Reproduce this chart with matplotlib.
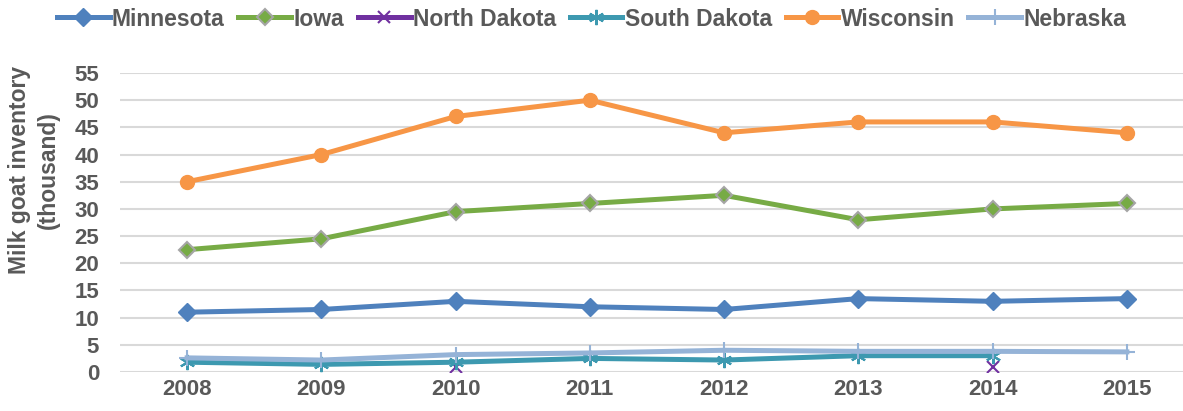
import matplotlib.pyplot as plt
import numpy as np

plt.rcParams['font.family'] = ['Liberation Sans', 'DejaVu Sans']

# Данные
years = [2008, 2009, 2010, 2011, 2012, 2013, 2014, 2015]
minnesota = [11, 11.5, 13, 12, 11.5, 13.5, 13, 13.5]
iowa = [22.5, 24.5, 29.5, 31, 32.5, 28, 30, 31]
north_dakota = [np.nan, np.nan, 1, np.nan, np.nan, np.nan, 1, np.nan]
south_dakota = [1.8, 1.4, 1.8, 2.5, 2.2, 3, 3, np.nan]
wisconsin = [35, 40, 47, 50, 44, 46, 46, 44]
nebraska = [2.6, 2.2, 3.2, 3.5, 4, 3.8, 3.8, 3.7]

grey = '#595959'

fig = plt.figure(figsize=(11.83, 4.11), dpi=100)
ax = fig.add_axes([120 / 1183, 1 - 372 / 411, 1074 / 1183, 299 / 411])

lw = 3.6
ax.plot(years, minnesota, color='#4F81BD', lw=lw, marker='D', ms=9,
        label='Minnesota')
ax.plot(years, iowa, color='#77AB45', lw=lw, marker='D', ms=8.5,
        mfc='#77AB45', mec='#A5A5A5', mew=1.5, label='Iowa')
ax.plot(years, north_dakota, color='#7030A0', lw=lw, marker='x', ms=9,
        mew=1.5, label='North Dakota')
ax.plot(years, south_dakota, color='#3D99B0', lw=lw, marker=(6, 2, 0),
        ms=11, mew=1.5, label='South Dakota')
ax.plot(years, wisconsin, color='#F79646', lw=lw, marker='o', ms=10,
        label='Wisconsin')
ax.plot(years, nebraska, color='#95B3D7', lw=lw, marker='+', ms=11,
        mew=1.5, label='Nebraska')

ax.set_xlim(2007.5, 2015.5)
ax.set_ylim(0, 55)
ax.set_xticks(years)
ax.set_yticks(range(0, 56, 5))
ax.grid(axis='y', color='#D9D9D9', lw=1.5)
ax.set_axisbelow(True)
for s in ax.spines.values():
    s.set_visible(False)
ax.tick_params(length=0, labelsize=16, labelcolor=grey)
ax.tick_params(axis='y', pad=15)
ax.tick_params(axis='x', pad=5)
for t in ax.get_xticklabels() + ax.get_yticklabels():
    t.set_fontweight('bold')

ax.set_ylabel('Milk goat inventory\n(thousand)', fontsize=16.5,
              fontweight='bold', color=grey, linespacing=1.3)
ax.yaxis.set_label_coords(-0.056, 0.675)

leg = fig.legend(loc='center', bbox_to_anchor=(0.5, 1 - 19 / 411), ncol=6,
                 frameon=False, fontsize=16.5, handlelength=2.3,
                 handletextpad=0.1, columnspacing=0.6)
for t in leg.get_texts():
    t.set_fontweight('bold')
    t.set_color(grey)

fig.savefig('out.png', dpi=100)
